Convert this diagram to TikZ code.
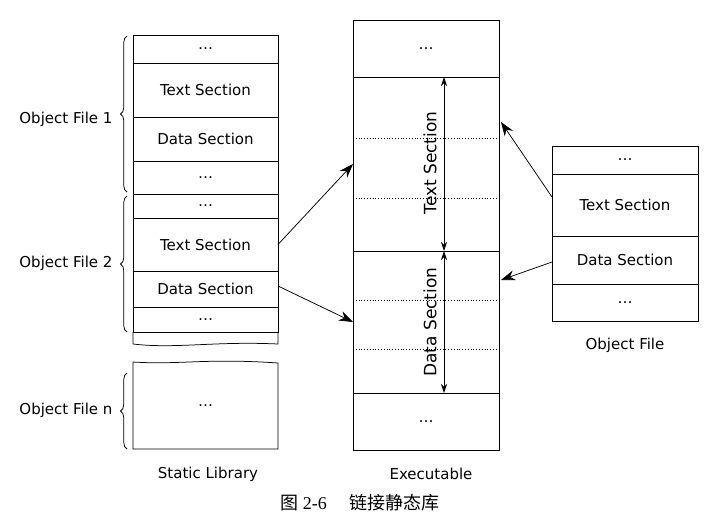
\documentclass[tikz,border=0pt]{standalone}
\usepackage{fontspec}
\setmainfont{DejaVu Sans}
\newfontfamily\cjk{Noto Sans CJK SC}
\newfontfamily\capserif{Liberation Serif}
\usetikzlibrary{arrows.meta,decorations.pathreplacing,calc}
\begin{document}
\begin{tikzpicture}[x=1pt,y=-1pt,
  every node/.style={font=\fontsize{15}{17}\selectfont},
  cell/.style={draw,line width=0.75pt,inner sep=0pt,outer sep=0pt,anchor=north west,minimum width=145pt},
  conn/.style={line width=0.75pt,-{Stealth[length=14pt,width=10pt]}},
  dim/.style={line width=0.75pt,{Stealth[length=9pt,width=6pt]}-{Stealth[length=9pt,width=6pt]}},
  brc/.style={decorate,decoration={brace,amplitude=6.5pt},line width=0.75pt},
  dotl/.style={dotted,line width=0.8pt},
  lbl/.style={anchor=east}]
\useasboundingbox (0,0) rectangle (714,520);
% Static library, object files 1 and 2
\node[cell,minimum height=28pt] (s1a) at (133,35) {…};
\node[cell,minimum height=54pt] (s1t) at (133,63) {Text Section};
\node[cell,minimum height=44pt] (s1d) at (133,117) {Data Section};
\node[cell,minimum height=33pt] (s1b) at (133,161) {…};
\node[cell,minimum height=24pt] (s2a) at (133,194) {…};
\node[cell,minimum height=53pt] (s2t) at (133,218) {Text Section};
\node[cell,minimum height=36pt] (s2d) at (133,271) {Data Section};
\node[cell,minimum height=25pt] (s2b) at (133,307) {…};
\draw[line width=0.75pt] (s2b.south west) -- (133,344) .. controls (175,349) and (215,341) .. (278,344) -- (s2b.south east);
% Object file n
\node[cell,draw=none,minimum height=87pt] (sn) at (133,362) {…};
\draw[line width=0.75pt] (sn.south west) -- (133,362) .. controls (180,365) and (205,358) .. (278,363) -- (sn.south east) -- cycle;
% braces
\draw[brc] (127,192) -- (127,36);
\draw[brc] (127,332) -- (127,196);
\draw[brc] (127,449) -- (127,373);
\node[lbl] (l1) at (116,119) {Object File 1};
\node[lbl] (l2) at (116,263) {Object File 2};
\node[lbl] (ln) at (116,410) {Object File n};
\node (slib) at (208,474) {Static Library};
% Executable
\node[cell,minimum width=146pt,minimum height=57pt] (e1) at (353,20) {…};
\node[cell,minimum width=146pt,minimum height=174pt] (et) at (353,77) {};
\node[cell,minimum width=146pt,minimum height=142pt] (ed) at (353,251) {};
\node[cell,minimum width=146pt,minimum height=57pt] (e2) at (353,393) {…};
\draw[dotl] ($(et.north west)+(0,61)$) -- ($(et.north east)+(0,61)$);
\draw[dotl] ($(et.north west)+(0,121)$) -- ($(et.north east)+(0,121)$);
\draw[dotl] ($(ed.north west)+(0,49)$) -- ($(ed.north east)+(0,49)$);
\draw[dotl] ($(ed.north west)+(0,98)$) -- ($(ed.north east)+(0,98)$);
\coordinate (ett) at (444,77);
\coordinate (etb) at (444,251);
\coordinate (edb) at (444,393);
\draw[dim] (ett) -- (etb);
\draw[dim] (etb) -- (edb);
\node[rotate=90,font=\fontsize{17}{19}\selectfont] (etl) at (430,163) {Text Section};
\node[rotate=90,font=\fontsize{17}{19}\selectfont] (edl) at (430,322) {Data Section};
\node (exl) at (431,474) {Executable};
% Object file
\node[cell,minimum width=146pt,minimum height=28pt] (o1) at (552,146) {…};
\node[cell,minimum width=146pt,minimum height=62pt] (ot) at (552,174) {Text Section};
\node[cell,minimum width=146pt,minimum height=48pt] (od) at (552,236) {Data Section};
\node[cell,minimum width=146pt,minimum height=37pt] (o2) at (552,284) {…};
\node (ofl) at (625,345) {Object File};
% connectors
\coordinate (ea) at (501,122);
\coordinate (eb) at (501,280);
\draw[conn] (s2t.east) -- (et.west);
\draw[conn] ($(s2d.east)+(0,-3)$) -- (ed.west);
\draw[conn] ($(ot.west)+(0,-8)$) -- (ea);
\draw[conn] ($(od.west)+(0,2)$) -- (eb);
% caption
\node (cap) at (360,503) {\fontsize{18}{20}\selectfont\cjk 图 \capserif 2-6\quad\ \cjk 链接静态库};
\end{tikzpicture}
\end{document}
